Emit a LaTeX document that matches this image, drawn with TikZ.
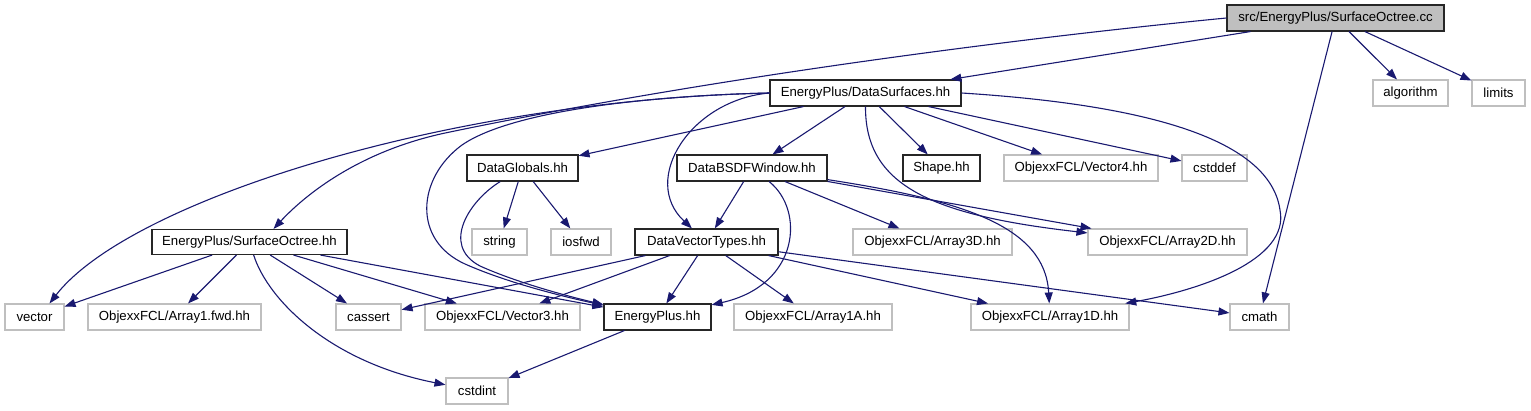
\documentclass[tikz,border=0pt]{standalone}
\usepackage{fontspec}
\setmainfont{Liberation Sans}
\usetikzlibrary{arrows.meta}
\definecolor{edgeblue}{HTML}{191970}
\definecolor{greyline}{HTML}{BFBFBF}
\definecolor{rootfill}{HTML}{BFBFBF}
\begin{document}
\begin{tikzpicture}[x=1pt,y=-1pt,
  base/.style={rectangle, inner sep=0pt, minimum height=26pt, line width=1.1pt,
    font=\fontsize{13.2}{15}\selectfont, text=black},
  own/.style={base, draw=black!85},
  sys/.style={base, draw=greyline},
  rootbox/.style={base, draw=black!85, fill=rootfill},
  e/.style={draw=edgeblue, line width=1.1pt, -{Triangle[length=11pt,width=8pt]}, edgeblue}]
\useasboundingbox (0,0) rectangle (1531,411);
% nodes
\node[rootbox, minimum width=217pt] (root) at (1335.5,18) {src/EnergyPlus/SurfaceOctree.cc};
\node[sys, minimum width=75pt] (algorithm) at (1410.5,93) {algorithm};
\node[sys, minimum width=53pt] (limits) at (1498.5,93) {limits};
\node[own, minimum width=191pt] (ds) at (865.5,93) {EnergyPlus/DataSurfaces.hh};
\node[own, minimum width=111pt] (dg) at (522.5,168) {DataGlobals.hh};
\node[own, minimum width=150pt] (bsdf) at (752,168) {DataBSDFWindow.hh};
\node[own, minimum width=77pt] (shape) at (941.5,168) {Shape.hh};
\node[sys, minimum width=154pt] (vec4) at (1081,168) {ObjexxFCL/Vector4.hh};
\node[sys, minimum width=65pt] (cstddef) at (1214.5,168) {cstddef};
\node[sys, minimum width=55pt] (string) at (499.5,242) {string};
\node[sys, minimum width=60pt] (iosfwd) at (581,242) {iosfwd};
\node[own, minimum width=143pt] (dvt) at (706.5,242) {DataVectorTypes.hh};
\node[own, minimum width=195pt, minimum height=25pt] (so) at (249.5,242) {EnergyPlus/SurfaceOctree.hh};
\node[sys, minimum width=159pt] (a3d) at (932.5,242) {ObjexxFCL/Array3D.hh};
\node[sys, minimum width=159pt] (a2d) at (1167.5,242) {ObjexxFCL/Array2D.hh};
\node[sys, minimum width=59pt] (vector) at (34.5,317) {vector};
\node[sys, minimum width=173pt] (a1fwd) at (174.5,317) {ObjexxFCL/Array1.fwd.hh};
\node[sys, minimum width=65pt] (cassert) at (368.5,317) {cassert};
\node[sys, minimum width=155pt] (vec3) at (502.5,317) {ObjexxFCL/Vector3.hh};
\node[own, minimum width=107pt] (ep) at (657.5,317) {EnergyPlus.hh};
\node[sys, minimum width=158pt] (a1a) at (813,317) {ObjexxFCL/Array1A.hh};
\node[sys, minimum width=158pt] (a1d) at (1050,317) {ObjexxFCL/Array1D.hh};
\node[sys, minimum width=59pt] (cmath) at (1259.5,317) {cmath};
\node[sys, minimum width=62pt] (cstdint) at (477,391) {cstdint};
% root edges
\draw[e] (root) -- (ds);
\draw[e] (root) -- (cmath);
\draw[e] (root) -- (algorithm);
\draw[e] (root) -- (limits);
\draw[e] (root.west) .. controls (1000,40) and (700,80) .. (450,132)
  .. controls (360,150) and (305,195) .. ([xshift=24pt]so.north);
% DataSurfaces edges
\draw[e] (ds.west) .. controls (450,100) and (130,200) .. ([xshift=15pt]vector.north);
\draw[e] (ds.west) .. controls (640,96) and (510,112) .. (462,145)
  .. controls (417,178) and (412,240) .. (465,264)
  .. controls (510,284) and (570,298) .. (ep);
\draw[e] (ds.west) .. controls (690,100) and (640,180) .. (dvt);
\draw[e] (ds) -- (dg);
\draw[e] (ds) -- (bsdf);
\draw[e] (ds) -- (shape);
\draw[e] (ds) -- (vec4);
\draw[e] (ds) -- (cstddef);
\draw[e] (ds.south) .. controls (865,185) and (930,215) .. (a2d);
\draw[e] (ds.east) .. controls (1150,105) and (1270,140) .. (1280,210)
  .. controls (1290,260) and (1200,290) .. (a1d);
% DataGlobals edges
\draw[e] (dg) -- (string);
\draw[e] (dg) -- (iosfwd);
\draw[e] (dg) .. controls (470,200) and (440,245) .. (480,266)
  .. controls (520,284) and (575,298) .. (ep);
% DataBSDFWindow edges
\draw[e] (bsdf) -- (dvt);
\draw[e] (bsdf) -- (a3d);
\draw[e] (bsdf) -- (a2d);
\draw[e] (bsdf) .. controls (960,200) and (1045,225) .. (a1d);
\draw[e] (bsdf) .. controls (805,210) and (800,285) .. (ep);
% DataVectorTypes edges
\draw[e] (dvt) -- (cassert);
\draw[e] (dvt) -- (vec3);
\draw[e] (dvt) -- (ep);
\draw[e] (dvt) -- (a1a);
\draw[e] (dvt) -- (a1d);
\draw[e] (dvt) -- (cmath);
% SurfaceOctree.hh edges
\draw[e] (so) -- (vector);
\draw[e] (so) -- (a1fwd);
\draw[e] (so) -- (cassert);
\draw[e] (so) -- (vec3);
\draw[e] (so) -- (ep);
\draw[e] (so) .. controls (268,300) and (330,362) .. (cstdint);
% EnergyPlus.hh edges
\draw[e] (ep) -- (cstdint);
\end{tikzpicture}
\end{document}
